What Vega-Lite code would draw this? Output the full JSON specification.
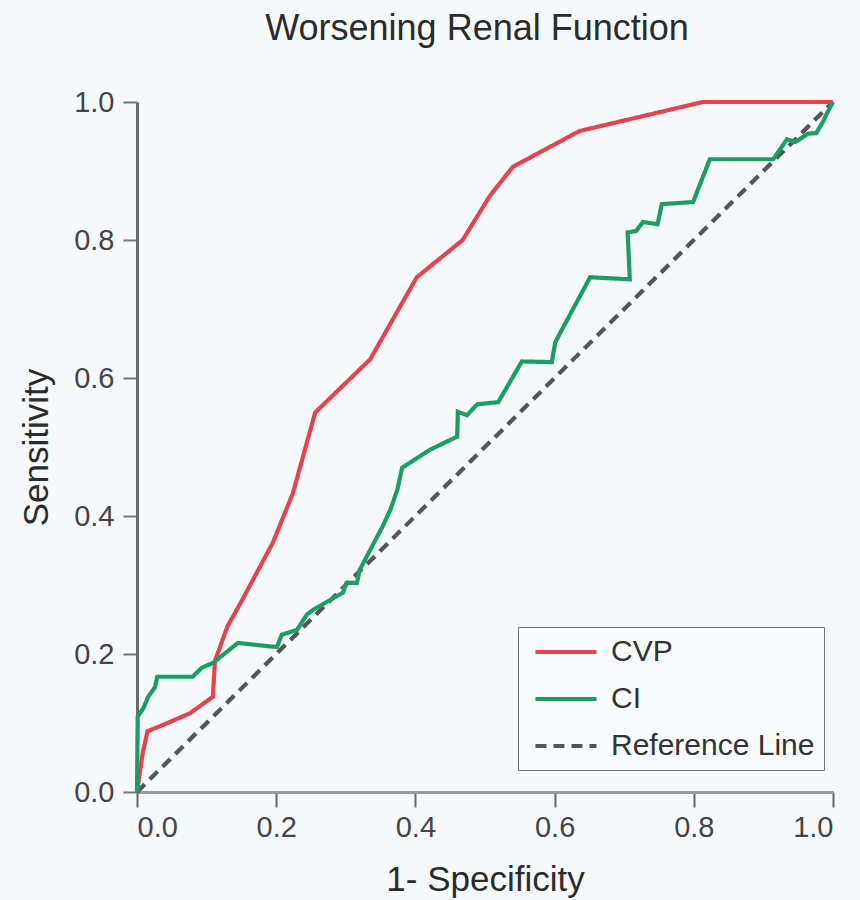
{
  "$schema": "https://vega.github.io/schema/vega-lite/v6.json",
  "width": 696,
  "height": 690,
  "autosize": {"type": "none"},
  "padding": {"left": 137, "top": 102, "right": 27, "bottom": 108},
  "background": "#f6f9fc",
  "title": {
    "text": "Worsening Renal Function",
    "fontSize": 36,
    "fontWeight": "normal",
    "color": "#2b2b2b",
    "font": "Liberation Sans",
    "anchor": "middle",
    "offset": 40,
    "dx": -8
  },
  "config": {
    "view": {"stroke": null, "fill": "#f6f9fc"},
    "font": "Liberation Sans"
  },
  "data": {
    "values": [
      {"series": "Reference Line", "i": 0, "fpr": 0.0, "tpr": 0.0},
      {"series": "Reference Line", "i": 1, "fpr": 1.0, "tpr": 1.0},
      {"series": "CVP", "i": 0, "fpr": 0.0, "tpr": 0.0},
      {"series": "CVP", "i": 1, "fpr": 0.008, "tpr": 0.055},
      {"series": "CVP", "i": 2, "fpr": 0.015, "tpr": 0.088},
      {"series": "CVP", "i": 3, "fpr": 0.037, "tpr": 0.097},
      {"series": "CVP", "i": 4, "fpr": 0.076, "tpr": 0.114},
      {"series": "CVP", "i": 5, "fpr": 0.109, "tpr": 0.138},
      {"series": "CVP", "i": 6, "fpr": 0.112, "tpr": 0.19},
      {"series": "CVP", "i": 7, "fpr": 0.13, "tpr": 0.24},
      {"series": "CVP", "i": 8, "fpr": 0.151, "tpr": 0.278},
      {"series": "CVP", "i": 9, "fpr": 0.195, "tpr": 0.361},
      {"series": "CVP", "i": 10, "fpr": 0.224, "tpr": 0.433},
      {"series": "CVP", "i": 11, "fpr": 0.256, "tpr": 0.55},
      {"series": "CVP", "i": 12, "fpr": 0.335, "tpr": 0.627},
      {"series": "CVP", "i": 13, "fpr": 0.402, "tpr": 0.746},
      {"series": "CVP", "i": 14, "fpr": 0.468, "tpr": 0.8},
      {"series": "CVP", "i": 15, "fpr": 0.507, "tpr": 0.864},
      {"series": "CVP", "i": 16, "fpr": 0.54, "tpr": 0.906},
      {"series": "CVP", "i": 17, "fpr": 0.636, "tpr": 0.958},
      {"series": "CVP", "i": 18, "fpr": 0.813, "tpr": 1.0},
      {"series": "CVP", "i": 19, "fpr": 1.0, "tpr": 1.0},
      {"series": "CI", "i": 0, "fpr": 0.0, "tpr": 0.0},
      {"series": "CI", "i": 1, "fpr": 0.001, "tpr": 0.109},
      {"series": "CI", "i": 2, "fpr": 0.01, "tpr": 0.123},
      {"series": "CI", "i": 3, "fpr": 0.016, "tpr": 0.138},
      {"series": "CI", "i": 4, "fpr": 0.026, "tpr": 0.152},
      {"series": "CI", "i": 5, "fpr": 0.029, "tpr": 0.167},
      {"series": "CI", "i": 6, "fpr": 0.08, "tpr": 0.167},
      {"series": "CI", "i": 7, "fpr": 0.093, "tpr": 0.18},
      {"series": "CI", "i": 8, "fpr": 0.109, "tpr": 0.187},
      {"series": "CI", "i": 9, "fpr": 0.145, "tpr": 0.216},
      {"series": "CI", "i": 10, "fpr": 0.201, "tpr": 0.21},
      {"series": "CI", "i": 11, "fpr": 0.208, "tpr": 0.228},
      {"series": "CI", "i": 12, "fpr": 0.23, "tpr": 0.235},
      {"series": "CI", "i": 13, "fpr": 0.244, "tpr": 0.257},
      {"series": "CI", "i": 14, "fpr": 0.253, "tpr": 0.264},
      {"series": "CI", "i": 15, "fpr": 0.296, "tpr": 0.289},
      {"series": "CI", "i": 16, "fpr": 0.301, "tpr": 0.303},
      {"series": "CI", "i": 17, "fpr": 0.316, "tpr": 0.303},
      {"series": "CI", "i": 18, "fpr": 0.32, "tpr": 0.322},
      {"series": "CI", "i": 19, "fpr": 0.353, "tpr": 0.385},
      {"series": "CI", "i": 20, "fpr": 0.364, "tpr": 0.409},
      {"series": "CI", "i": 21, "fpr": 0.374, "tpr": 0.438},
      {"series": "CI", "i": 22, "fpr": 0.381, "tpr": 0.47},
      {"series": "CI", "i": 23, "fpr": 0.421, "tpr": 0.496},
      {"series": "CI", "i": 24, "fpr": 0.46, "tpr": 0.515},
      {"series": "CI", "i": 25, "fpr": 0.461, "tpr": 0.551},
      {"series": "CI", "i": 26, "fpr": 0.474, "tpr": 0.546},
      {"series": "CI", "i": 27, "fpr": 0.489, "tpr": 0.562},
      {"series": "CI", "i": 28, "fpr": 0.519, "tpr": 0.565},
      {"series": "CI", "i": 29, "fpr": 0.553, "tpr": 0.624},
      {"series": "CI", "i": 30, "fpr": 0.596, "tpr": 0.623},
      {"series": "CI", "i": 31, "fpr": 0.601, "tpr": 0.652},
      {"series": "CI", "i": 32, "fpr": 0.651, "tpr": 0.746},
      {"series": "CI", "i": 33, "fpr": 0.708, "tpr": 0.743},
      {"series": "CI", "i": 34, "fpr": 0.705, "tpr": 0.811},
      {"series": "CI", "i": 35, "fpr": 0.717, "tpr": 0.813},
      {"series": "CI", "i": 36, "fpr": 0.727, "tpr": 0.826},
      {"series": "CI", "i": 37, "fpr": 0.748, "tpr": 0.823},
      {"series": "CI", "i": 38, "fpr": 0.754, "tpr": 0.852},
      {"series": "CI", "i": 39, "fpr": 0.799, "tpr": 0.855},
      {"series": "CI", "i": 40, "fpr": 0.823, "tpr": 0.917},
      {"series": "CI", "i": 41, "fpr": 0.914, "tpr": 0.917},
      {"series": "CI", "i": 42, "fpr": 0.934, "tpr": 0.946},
      {"series": "CI", "i": 43, "fpr": 0.946, "tpr": 0.942},
      {"series": "CI", "i": 44, "fpr": 0.964, "tpr": 0.954},
      {"series": "CI", "i": 45, "fpr": 0.976, "tpr": 0.955},
      {"series": "CI", "i": 46, "fpr": 0.986, "tpr": 0.972},
      {"series": "CI", "i": 47, "fpr": 0.992, "tpr": 0.985},
      {"series": "CI", "i": 48, "fpr": 1.0, "tpr": 1.0}
    ]
  },
  "mark": {"type": "line", "strokeWidth": 4.2, "clip": false},
  "encoding": {
    "x": {
      "field": "fpr",
      "type": "quantitative",
      "scale": {"domain": [0, 1], "nice": false, "zero": false},
      "axis": {
        "title": "1- Specificity",
        "values": [0, 0.2, 0.4, 0.6, 0.8, 1],
        "format": ".1f",
        "grid": false,
        "domainColor": "#9a9a9a",
        "domainWidth": 3,
        "tickColor": "#666666",
        "tickWidth": 2,
        "tickSize": 15,
        "labelFontSize": 29,
        "labelColor": "#444444",
        "labelPadding": 6,
        "titleFontSize": 35,
        "titleFontWeight": "normal",
        "titleColor": "#2b2b2b",
        "titlePadding": 20
      }
    },
    "y": {
      "field": "tpr",
      "type": "quantitative",
      "scale": {"domain": [0, 1], "nice": false, "zero": false},
      "axis": {
        "title": "Sensitivity",
        "values": [0, 0.2, 0.4, 0.6, 0.8, 1],
        "format": ".1f",
        "grid": false,
        "domainColor": "#6a6a6a",
        "domainWidth": 3,
        "tickColor": "#777777",
        "tickWidth": 2,
        "tickSize": 14,
        "labelFontSize": 29,
        "labelColor": "#444444",
        "labelPadding": 9,
        "titleFontSize": 35,
        "titleFontWeight": "normal",
        "titleColor": "#2b2b2b",
        "titlePadding": 19
      }
    },
    "color": {
      "field": "series",
      "type": "nominal",
      "scale": {
        "domain": ["CVP", "CI", "Reference Line"],
        "range": ["#e5434d", "#1b9e63", "#555555"]
      },
      "legend": {
        "title": null,
        "orient": "none",
        "legendX": 381,
        "legendY": 525,
        "strokeColor": "#777777",
        "fillColor": "#f8fbfd",
        "padding": 9,
        "symbolType": "M-2.18,0H2.18",
        "symbolSize": 784,
        "symbolStrokeWidth": 4,
        "symbolOffset": 23,
        "labelFontSize": 30,
        "labelColor": "#333333",
        "labelOffset": 29,
        "labelLimit": 400,
        "rowPadding": 16
      }
    },
    "strokeDash": {
      "field": "series",
      "type": "nominal",
      "scale": {
        "domain": ["CVP", "CI", "Reference Line"],
        "range": [[1, 0], [1, 0], [11, 7]]
      }
    },
    "order": {"field": "i", "type": "quantitative"}
  }
}
